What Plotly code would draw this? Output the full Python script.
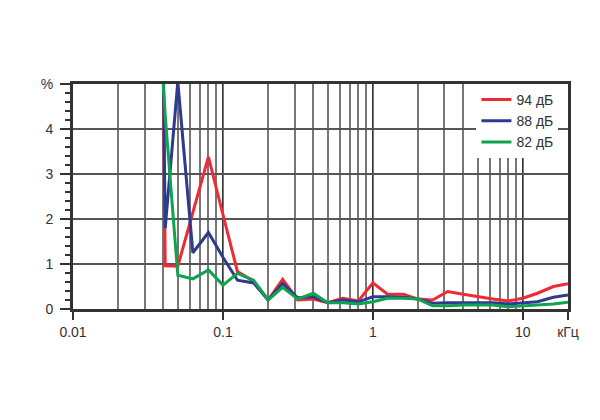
import numpy as np
import plotly.graph_objects as go

freq_khz = [0.04, 0.0412, 0.05, 0.063, 0.08, 0.1, 0.125, 0.16, 0.2, 0.25, 0.315, 0.4, 0.5,
            0.63, 0.8, 1, 1.25, 1.6, 2, 2.5, 3.15, 4, 5, 6.3, 8, 10, 12.5, 16, 20]
thd_94 = [5.5, 0.96, 0.95, 2.15, 3.38, 2.1, 0.83, 0.62, 0.2, 0.66, 0.2, 0.22, 0.14,
          0.24, 0.18, 0.58, 0.33, 0.33, 0.22, 0.2, 0.39, 0.33, 0.27, 0.22, 0.18, 0.24, 0.35, 0.5, 0.56]
thd_88 = [5.5, 1.8, 5.05, 1.25, 1.70, 1.15, 0.64, 0.58, 0.2, 0.57, 0.25, 0.27, 0.14,
          0.2, 0.16, 0.27, 0.27, 0.26, 0.22, 0.13, 0.14, 0.14, 0.15, 0.14, 0.11, 0.13, 0.16, 0.26, 0.31]
thd_82 = [5.0, 4.3, 0.75, 0.67, 0.87, 0.53, 0.79, 0.64, 0.2, 0.48, 0.22, 0.35, 0.14,
          0.14, 0.11, 0.16, 0.24, 0.24, 0.22, 0.07, 0.07, 0.09, 0.09, 0.09, 0.05, 0.07, 0.09, 0.11, 0.15]

series_names = ["94 дБ", "88 дБ", "82 дБ"]
series_colors = ["#EE2A34", "#2E3A8E", "#0FA34F"]

x_tickvals = [0.01, 0.1, 1, 10, 20]
x_ticktext = ["0.01", "0.1", "1", "10", "кГц"]
y_tickvals = [0, 1, 2, 3, 4, 5]
y_ticktext = ["0", "1", "2", "3", "4", "%"]

fig = go.Figure()
for name, vals, col in zip(series_names, [thd_94, thd_88, thd_82], series_colors):
    fig.add_trace(go.Scatter(x=freq_khz, y=vals, mode="lines", name=name,
                             line=dict(color=col, width=3)))

# page body has an 8px margin, so the figure is sized/offset to compensate
fig.update_layout(
    width=592, height=412,
    margin=dict(l=65, r=32, t=76, b=111),
    paper_bgcolor="white", plot_bgcolor="white",
    font=dict(family="Liberation Sans, Arial, sans-serif", size=14, color="#333"),
    legend=dict(x=0.815, y=1.0, xanchor="left", yanchor="top",
                bgcolor="white", borderwidth=0, font=dict(size=14),
                itemwidth=30, tracegroupgap=0),
    showlegend=True,
)

fig.update_xaxes(
    type="log", range=[-2, np.log10(20)],
    tickvals=x_tickvals, ticktext=x_ticktext,
    ticks="outside", ticklen=8, tickwidth=1.5, tickcolor="#333",
    showgrid=True, gridcolor="#333", gridwidth=1.2,
    minor=dict(dtick="D1", showgrid=True, gridcolor="#777", gridwidth=1.5, ticks=""),
    showline=True, linewidth=3, linecolor="#333", mirror=True, zeroline=False,
)
fig.update_yaxes(
    range=[0, 5], tickvals=y_tickvals, ticktext=y_ticktext,
    ticks="outside", ticklen=10, tickwidth=1.5, tickcolor="#333",
    ticklabelstandoff=4,
    showgrid=True, gridcolor="#555", gridwidth=1.5,
    minor=dict(dtick=0.2, ticks="outside", ticklen=5, tickcolor="#333", showgrid=False),
    showline=True, linewidth=3, linecolor="#333", mirror=True, zeroline=False,
)

fig.write_html("out.html")
